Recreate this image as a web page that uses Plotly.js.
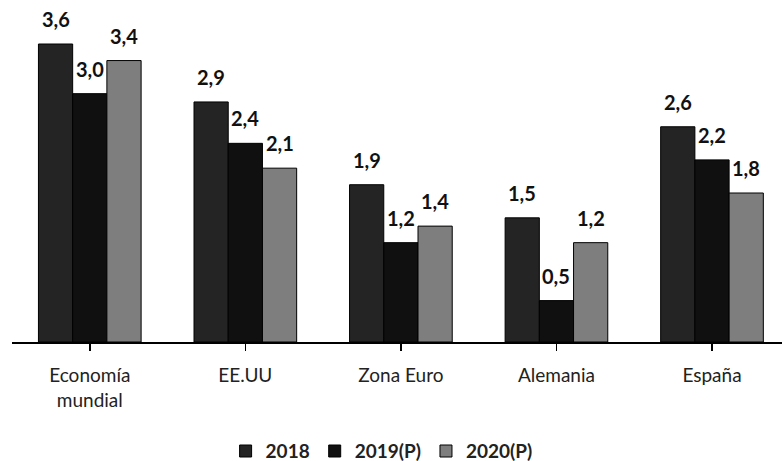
<!DOCTYPE html>
<html>
<head>
<meta charset="utf-8">
<script src="https://cdn.plot.ly/plotly-3.0.1.min.js"></script>
<style>html,body{margin:0;padding:0;background:#fff;}#chart{width:782px;height:461px;}</style>
</head>
<body>
<div id="chart"></div>
<script>
var categories = ['Economía<br>mundial', 'EE.UU', 'Zona Euro', 'Alemania', 'España'];
var seriesNames = ['2018', '2019(P)', '2020(P)'];
var v2018 = [3.6, 2.9, 1.9, 1.5, 2.6];
var v2019 = [3.0, 2.4, 1.2, 0.5, 2.2];
var v2020 = [3.4, 2.1, 1.4, 1.2, 1.8];

var allValues = [v2018, v2019, v2020];
var colors = ['#242424', '#101010', '#7e7e7e'];
var bargap = 0.34;
var fontFam = 'Lato, "Open Sans", sans-serif';

var xIdx = categories.map(function (c, i) { return i; });
var traces = allValues.map(function (vals, j) {
  return {
    type: 'bar',
    name: seriesNames[j],
    x: xIdx,
    y: vals,
    marker: { color: colors[j], line: { color: '#000', width: 1 } },
    hoverinfo: 'y'
  };
});

var w = (1 - bargap) / 3;
var annotations = [];
allValues.forEach(function (vals, j) {
  vals.forEach(function (v, i) {
    annotations.push({
      x: i + (j - 1) * w,
      y: v,
      xref: 'x', yref: 'y',
      text: v.toFixed(1).replace('.', ','),
      showarrow: false,
      yanchor: 'bottom',
      yshift: 11,
      font: { family: fontFam, size: 20, color: '#111', weight: 'bold' }
    });
  });
});

var layout = {
  width: 782, height: 461,
  margin: { l: 12, r: 0, t: 20, b: 119, autoexpand: false },
  paper_bgcolor: '#fff', plot_bgcolor: '#fff',
  barmode: 'group',
  bargap: bargap,
  bargroupgap: 0,
  showlegend: true,
  legend: {
    orientation: 'h', x: 0.48, xanchor: 'center', y: -0.28, yanchor: 'top',
    font: { family: fontFam, size: 19, color: '#222', weight: 'bold' },
    itemwidth: 30
  },
  xaxis: {
    range: [-0.5, 4.45],
    automargin: false,
    tickmode: 'array', tickvals: xIdx, ticktext: categories,
    tickson: 'boundaries',
    ticks: 'outside', ticklen: 7, tickcolor: '#000', tickwidth: 1.5,
    showline: true, linecolor: '#000', linewidth: 1.5,
    showgrid: false, zeroline: false,
    ticklabelstandoff: 9,
    tickfont: { family: fontFam, size: 19, color: '#222' },
    fixedrange: true
  },
  yaxis: {
    range: [0, 3.89],
    automargin: false,
    visible: false, showgrid: false, zeroline: false, fixedrange: true
  },
  annotations: annotations
};

Plotly.newPlot('chart', traces, layout, { displayModeBar: false, staticPlot: true });
</script>
</body>
</html>
